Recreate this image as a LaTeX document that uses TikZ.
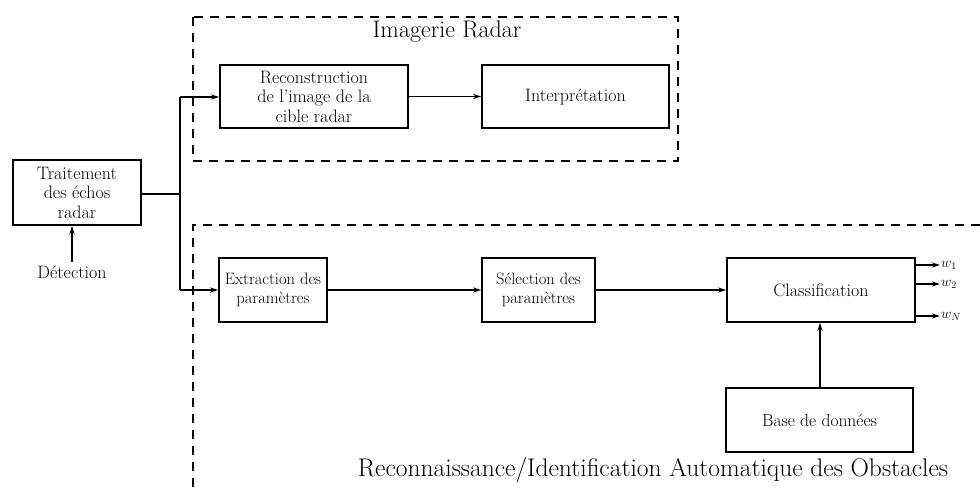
\documentclass[tikz,border=0pt]{standalone}
\usetikzlibrary{arrows.meta}
\begin{document}
\begin{tikzpicture}[x=1pt,y=-1pt,
  blk/.style={draw,line width=1.6pt,rectangle,inner sep=0pt,align=center,font=\fontsize{18}{19.5}\selectfont},
  smallblk/.style={blk,font=\fontsize{16.5}{19}\selectfont},
  conn/.style={line width=1.6pt},
  arr/.style={line width=1.6pt,-{Stealth[length=8pt,width=5pt]}},
  dsh/.style={line width=1.5pt,dash pattern=on 9pt off 7pt},
  ttl/.style={font=\fontsize{24}{28}\selectfont},
  outl/.style={anchor=west,inner sep=1pt,font=\fontsize{14}{16}\selectfont}]
\useasboundingbox (0,0) rectangle (980,488);
% dashed groups
\draw[dsh] (193,17) rectangle (678,161);
\draw[dsh] (980,225) -- (193,225) -- (193,488);
\node[ttl] (tA) at (447,32) {Imagerie Radar};
\node[ttl,font=\fontsize{25.5}{30}\selectfont] (tB) at (653,470) {Reconnaissance/Identification Automatique des Obstacles};
% blocks
\node[blk,minimum width=128pt,minimum height=65pt] (trait) at (77,192.5) {Traitement\\des échos\\radar};
\node[font=\fontsize{18}{20}\selectfont] (det) at (72,272) {Détection};
\node[blk,minimum width=188pt,minimum height=63pt] (recon) at (314,96.5) {Reconstruction\\de l'image de la\\cible radar};
\node[blk,minimum width=187pt,minimum height=63pt] (interp) at (575.5,96.5) {Interprétation};
\node[smallblk,minimum width=108pt,minimum height=64pt] (extr) at (273,290) {Extraction des\\paramètres};
\node[smallblk,minimum width=113pt,minimum height=64pt] (sel) at (538.5,290) {Sélection des\\paramètres};
\node[blk,minimum width=188pt,minimum height=64pt] (classif) at (821,290) {Classification};
\node[blk,minimum width=187pt,minimum height=64pt,font=\fontsize{17.5}{20}\selectfont] (base) at (819.5,420) {Base de données};
% connectors
\coordinate (j) at (180,194);
\coordinate (jt) at (180,97);
\coordinate (jb) at (180,290);
\draw[conn] (trait.east |- j) -- (j);
\draw[conn] (jt) -- (jb);
\draw[arr] (jt) -- (recon.west |- jt);
\draw[arr] (jb) -- (extr.west |- jb);
\draw[arr] (det.north) -- (trait.south -| det.north);
\draw[arr] (recon) -- (interp);
\draw[arr] (extr) -- (sel);
\draw[arr] (sel) -- (classif.west |- sel);
\draw[arr] (base.north -| 820,0) -- (classif.south -| 820,0);
% outputs
\coordinate (o1) at (940,265);
\coordinate (o2) at (940,284);
\coordinate (oN) at (940,316);
\draw[arr] (classif.east |- o1) -- (o1);
\draw[arr] (classif.east |- o2) -- (o2);
\draw[arr] (classif.east |- oN) -- (oN);
\node[outl] (w1) at (o1) {$w_1$};
\node[outl] (w2) at (o2) {$w_2$};
\node[outl] (wN) at (oN) {$w_N$};
\end{tikzpicture}
\end{document}
